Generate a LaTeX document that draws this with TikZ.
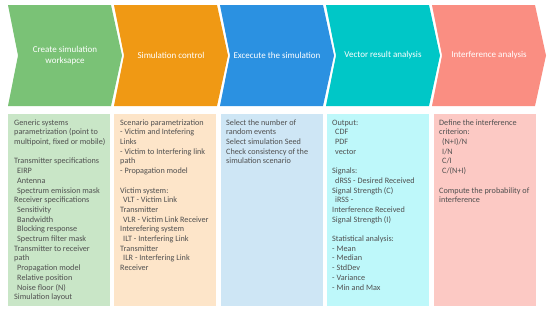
\documentclass[tikz,border=0pt]{standalone}
\usepackage{fontspec}
\setmainfont{Carlito}
\definecolor{greenD}{RGB}{122,194,118}
\definecolor{orangeD}{RGB}{240,153,20}
\definecolor{blueD}{RGB}{43,145,225}
\definecolor{tealD}{RGB}{0,199,199}
\definecolor{salmonD}{RGB}{250,142,130}
\definecolor{greenL}{RGB}{201,230,199}
\definecolor{orangeL}{RGB}{253,229,201}
\definecolor{blueL}{RGB}{206,230,245}
\definecolor{tealL}{RGB}{190,248,250}
\definecolor{salmonL}{RGB}{252,201,196}
\definecolor{bodytext}{RGB}{80,80,80}
\tikzset{
  headtext/.style={text=white, align=center, font=\fontsize{9}{11}\selectfont, inner sep=0pt},
  bodybox/.style={draw=none, anchor=north west, minimum width=102pt, minimum height=192pt, inner sep=0pt},
  bodytxt/.style={text=bodytext, align=left, anchor=north west, inner sep=0pt, font=\fontsize{8.2}{9.7}\selectfont},
}
\newcommand{\ind}{\hspace*{3pt}}
\newcommand{\chev}[3]{%
  \fill[#2] (#1,5) -- ++(103,0) -- ++(11,50.5) -- ++(-11,50.5) -- ++(-103,0) -- ++(10,-50.5) -- cycle;
  \coordinate (#3) at (#1+57,55.5);
}
\begin{document}
\begin{tikzpicture}[x=1pt,y=-1pt]
\useasboundingbox[fill=white] (0,0) rectangle (550,314);
% chevrons
\chev{8}{greenD}{c1}
\chev{114}{orangeD}{c2}
\chev{220}{blueD}{c3}
\chev{326}{tealD}{c4}
\chev{432}{salmonD}{c5}
\node[headtext] (h1) at (c1) {Create simulation\\worksapce};
\node[headtext] (h2) at (c2) {Simulation control};
\node[headtext] (h3) at (c3) {Excecute the simulation};
\node[headtext] (h4) at (c4) {Vector result analysis};
\node[headtext] (h5) at (c5) {Interference analysis};
% boxes
\node[bodybox, fill=greenL] (b1) at (8,114) {};
\node[bodybox, fill=orangeL] (b2) at (114,114) {};
\node[bodybox, fill=blueL] (b3) at (221,114) {};
\node[bodybox, fill=tealL] (b4) at (327,114) {};
\node[bodybox, fill=salmonL] (b5) at (434,114) {};
% texts
\node[bodytxt] (t1) at (14,118.2) {\strut Generic systems\\
parametrization (point to\\
multipoint, fixed or mobile)\\[9.7pt]
Transmitter specifications\\
\ind EIRP\\
\ind Antenna\\
\ind Spectrum emission mask\\
Receiver specifications\\
\ind Sensitivity\\
\ind Bandwidth\\
\ind Blocking response\\
\ind Spectrum filter mask\\
Transmitter to receiver\\
path\\
\ind Propagation model\\
\ind Relative position\\
\ind Noise floor (N)\\
Simulation layout};
\node[bodytxt] (t2) at (120,118.2) {\strut Scenario parametrization\\
- Victim and Intefering\\
Links\\
- Victim to Interfering link\\
path\\
- Propagation model\\[9.7pt]
Victim system:\\
\ind VLT - Victim Link\\
Transmitter\\
\ind VLR - Victim Link Receiver\\
Interefering system\\
\ind ILT - Interfering Link\\
Transmitter\\
\ind ILR - Interfering Link\\
Receiver};
\node[bodytxt] (t3) at (226,118.2) {\strut Select the number of\\
random events\\
Select simulation Seed\\
Check consistency of the\\
simulation scenario};
\node[bodytxt] (t4) at (332,118.2) {\strut Output:\\
\ind CDF\\
\ind PDF\\
\ind vector\\[9.7pt]
Signals:\\
\ind dRSS - Desired Received\\
Signal Strength (C)\\
\ind iRSS -\\
Interference Received\\
Signal Strength (I)\\[9.7pt]
Statistical analysis:\\
- Mean\\
- Median\\
- StdDev\\
- Variance\\
- Min and Max};
\node[bodytxt] (t5) at (439,118.2) {\strut Define the interference\\
criterion:\\
\ind (N+I)/N\\
\ind I/N\\
\ind C/I\\
\ind C/(N+I)\\[9.7pt]
Compute the probability of\\
interference};
\end{tikzpicture}
\end{document}
